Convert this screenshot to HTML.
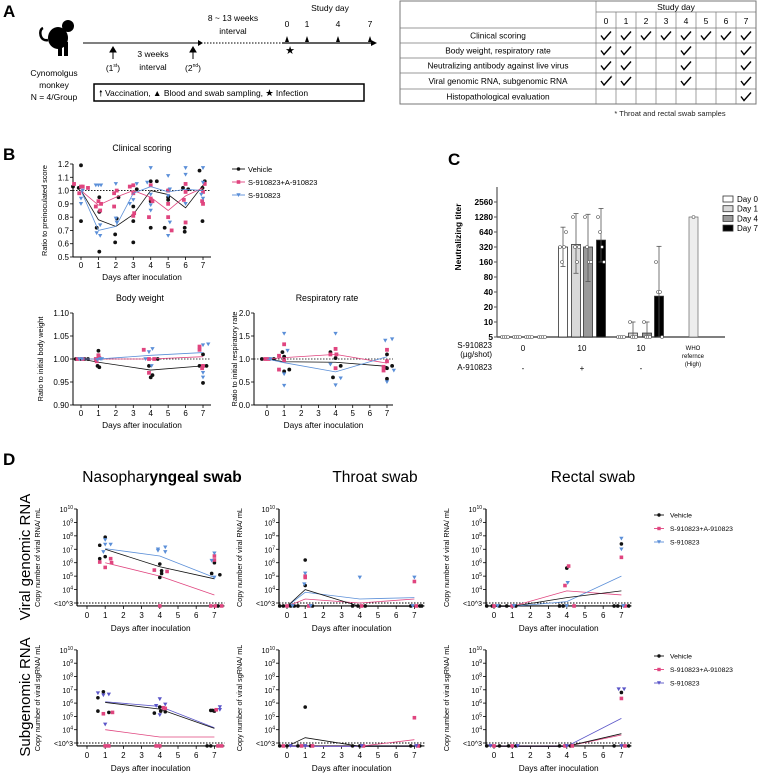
<!DOCTYPE html>
<html><head><meta charset="utf-8">
<style>
html,body{margin:0;padding:0;background:#fff;}
svg{display:block;font-family:"Liberation Sans",Arial,sans-serif;}
</style></head>
<body>
<svg id="fig" width="758" height="776" viewBox="0 0 758 776" xmlns="http://www.w3.org/2000/svg">
<g id="panelA">
<text x="3" y="17" font-size="17" font-weight="bold">A</text>
<g fill="#000">
<ellipse cx="58" cy="38" rx="10" ry="11"/>
<circle cx="68" cy="26" r="6"/>
<rect x="58" y="44" width="4" height="12"/><rect x="64" y="42" width="4" height="14"/>
<path d="M48,40 C40,42 38,30 43,28" stroke="#000" stroke-width="2.5" fill="none"/>
</g>
<text x="54" y="76" font-size="8.5" text-anchor="middle">Cynomolgus</text>
<text x="54" y="88" font-size="8.5" text-anchor="middle">monkey</text>
<text x="54" y="100" font-size="8.5" text-anchor="middle">N = 4/Group</text>
<line x1="83" y1="43" x2="198" y2="43" stroke="#000" stroke-width="1"/>
<path d="M198,40 L203,43 L198,46 Z"/>
<line x1="204" y1="43" x2="282" y2="43" stroke="#000" stroke-width="1" stroke-dasharray="1.5,1.5"/>
<line x1="282" y1="43" x2="372" y2="43" stroke="#000" stroke-width="1.2"/>
<path d="M371,40 L377,43 L371,46 Z"/>
<g stroke="#000" fill="#000">
<line x1="113" y1="51" x2="113" y2="59"/><path d="M110,52 L113,47 L116,52 Z"/>
<line x1="193" y1="51" x2="193" y2="59"/><path d="M190,52 L193,47 L196,52 Z"/>
</g>
<text x="113" y="71" font-size="8.5" text-anchor="middle">(1<tspan font-size="5" dy="-4">st</tspan><tspan dy="4">)</tspan></text>
<text x="193" y="71" font-size="8.5" text-anchor="middle">(2<tspan font-size="5" dy="-4">nd</tspan><tspan dy="4">)</tspan></text>
<text x="153" y="57" font-size="8.5" text-anchor="middle">3 weeks</text>
<text x="153" y="70" font-size="8.5" text-anchor="middle">interval</text>
<text x="233" y="21" font-size="8.5" text-anchor="middle">8 ~ 13 weeks</text>
<text x="233" y="34" font-size="8.5" text-anchor="middle">interval</text>
<text x="330" y="11" font-size="8.5" text-anchor="middle">Study day</text>
<g font-size="8.5" text-anchor="middle">
<text x="287" y="27">0</text><text x="307" y="27">1</text><text x="338" y="27">4</text><text x="370" y="27">7</text>
</g>
<g fill="#000">
<path d="M285,42 L287,36 L289,42 Z"/><path d="M305,42 L307,36 L309,42 Z"/><path d="M336,42 L338,36 L340,42 Z"/><path d="M368,42 L370,36 L372,42 Z"/>
</g>
<text x="290" y="54" font-size="11" text-anchor="middle">★</text>
<rect x="94" y="84" width="270" height="17" fill="none" stroke="#000" stroke-width="1.5"/>
<text x="99" y="96" font-size="8.5">🠕 Vaccination, ▲ Blood and swab sampling, ★ Infection</text>
</g>
<g id="tableA"></g>
<text x="670" y="116" font-size="7.5" text-anchor="middle" fill="#222">* Throat and rectal swab samples</text>

<text x="3" y="160" font-size="17" font-weight="bold">B</text>
<text x="448" y="165" font-size="17" font-weight="bold">C</text>
<text x="3" y="465" font-size="17" font-weight="bold">D</text>
<g id="gB"></g>
<g id="gC"></g>
<g id="gD"></g>
</svg>
<script>
// ===== DATA =====
const tableRows = ["Clinical scoring","Body weight, respiratory rate","Neutralizing antibody against live virus","Viral genomic RNA, subgenomic RNA","Histopathological evaluation"];
const tableDays = [0,1,2,3,4,5,6,7];
const tableChecks = [[0,1,2,3,4,5,6,7],[0,1,4,7],[0,1,4,7],[0,1,4,7],[7]];

const clinDays = [0,1,2,3,4,5,6,7];
const clinVehMean = [1.0,0.78,0.73,0.82,1.0,0.97,0.87,1.04];
const clinPinkMean = [1.0,0.89,0.95,1.0,0.95,0.85,0.96,1.02];
const clinBlueMean = [1.0,0.70,0.73,0.98,1.03,0.99,1.01,1.0];
const clinVehPts = [[-0.46,1.03],[0,1.19],[-0.13,1.02],[0,0.77],[1.05,0.84],[0.9,0.72],[1.05,0.95],[1.05,0.54],[1.96,0.61],[1.96,0.67],[2.05,0.79],[2.15,0.95],[3,0.88],[3,0.77],[3,0.61],[3.2,1.01],[4,0.92],[4,0.72],[4,1.07],[4.35,1.07],[5,1.0],[5,0.93],[5,0.95],[4.8,0.72],[5.95,0.69],[5.95,0.72],[5.85,1.02],[6.15,1.01],[6.8,1.15],[6.97,0.77],[6.97,1.02],[7.1,1.07]];
const clinPinkPts = [[-0.4,1.05],[-0.1,0.98],[0,1.03],[0.1,1.03],[0.4,1.02],[0.85,0.88],[1,0.92],[1.1,0.85],[1.15,0.9],[1.9,0.98],[1.9,0.88],[2.05,1.0],[2.8,1.03],[3,1.04],[3,0.98],[3,0.81],[3.05,0.83],[3.9,0.8],[4,0.94],[4,1.04],[4.1,0.92],[5,0.8],[5,0.9],[5,1.0],[5.2,0.7],[5.9,0.93],[6,1.05],[6,0.99],[6,0.76],[7,0.99],[7,0.9],[7.1,1.05],[6.95,0.92]];
const clinBluePts = [[0,0.94],[0,0.9],[0.1,1.0],[0.85,1.04],[1,1.04],[1.15,1.04],[0.9,0.68],[1.1,0.66],[1.1,0.74],[2,1.05],[2,0.79],[2.05,0.76],[2.8,0.9],[3,0.93],[3.2,1.05],[3.8,1.06],[4,1.17],[4,0.97],[4,0.89],[4,0.85],[5,1.11],[5,0.96],[5.1,1.01],[5,0.66],[5.1,0.76],[6,1.17],[6,1.12],[6,0.9],[7,1.17],[7,1.06],[7,0.94],[6.9,0.97]];
const clinTicks = [0.5,0.6,0.7,0.8,0.9,1.0,1.1,1.2];

const bwDays = [0,1,4,7];
const bwVehMean = [1.0,0.993,0.976,0.985];
const bwPinkMean = [1.0,1.0,1.0,1.005];
const bwBlueMean = [1.0,1.0,1.008,1.014];
const bwVehPts = [[-0.3,1.0],[0,1.0],[0.2,1.0],[0.4,1.0],[1,1.018],[1,1.008],[0.95,0.985],[1.05,0.982],[3.9,0.985],[4,0.96],[4.1,0.965],[4.4,1.0],[7,1.01],[7.2,0.985],[7,0.948],[6.8,0.985]];
const bwPinkPts = [[-0.2,1.0],[0.1,1.0],[0.85,1.0],[1,1.008],[1.05,1.002],[0.9,0.995],[3.6,1.02],[3.9,1.0],[3.9,0.97],[4.2,1.0],[6.8,1.027],[6.8,1.02],[7,0.985],[6.95,0.98]];
const bwBluePts = [[-0.1,1.0],[0.05,1.0],[1.1,1.0],[1.2,1.0],[0.95,0.998],[3.9,1.015],[4.1,1.022],[4.05,0.985],[3.7,1.0],[7,1.03],[7.3,1.032],[7,0.97],[7,0.96]];
const bwTicks = [0.90,0.95,1.00,1.05,1.10];

const rrDays = [0,1,4,7];
const rrVehMean = [1.0,0.94,0.93,0.84];
const rrPinkMean = [1.0,1.03,1.1,0.91];
const rrBlueMean = [1.0,0.92,0.72,1.05];
const rrVehPts = [[-0.3,1.0],[0.4,1.0],[0.9,1.15],[1,1.05],[1,0.73],[1.3,0.77],[3.7,1.15],[3.85,0.6],[4,1.02],[4.3,0.85],[7,1.1],[7,0.8],[7,0.57],[7.3,0.85]];
const rrPinkPts = [[-0.1,1.0],[0.1,1.0],[1,1.32],[0.7,1.07],[1,0.97],[0.7,0.77],[3.7,1.1],[4,1.22],[4.05,1.1],[4,0.8],[7,1.2],[7,0.95],[6.8,0.83],[6.8,0.75]];
const rrBluePts = [[0.2,1.0],[1,1.55],[1.2,1.18],[1,0.67],[1,0.42],[4,1.55],[3.7,0.88],[4.3,0.58],[4,0.43],[6.9,1.4],[7.3,1.43],[7,0.5],[7.4,0.75]];
const rrTicks = [0.0,0.5,1.0,1.5,2.0];

const cGroups = ["0","10","10"];
const cGroupSign = ["-","+","-"];
const cDays = ["Day 0","Day 1","Day 4","Day 7"];
const cMeans = [[5,5,5,5],[320,360,320,440],[5,6,6,33]];
const cErrHi = [[5,5,5,5],[800,1500,1450,1900],[5,10,10,330]];
const cErrLo = [[5,5,5,5],[130,95,65,160],[5,5,5,5]];
const cWho = 1280;
const cTicks = [5,10,20,40,80,160,320,640,1280,2560];
const cPts = [[[5,5,5,5],[5,5,5,5],[5,5,5,5],[5,5,5,5]],[[320,160,320,640],[1280,320,160,320],[1280,320,160,160],[1280,640,320,160]],[[5,5,5,5],[10,5,5,5],[10,5,5,5],[160,40,40,5]]];

const dDays = [0,1,4,7];
const nasoGVeh = [[0.7,7.3],[0.7,6.3],[1,7.9],[1,6.45],[4,5.9],[4,4.9],[4.1,5.4],[4.1,5.2],[6.85,5.2],[7,6.0],[7.3,5.1],[7.2,2.75]];
const nasoGPink = [[0.7,6.05],[1,5.65],[1.3,6.3],[1.35,6.0],[3.7,5.45],[4.4,5.35],[4,2.75],[7,6.5],[7,6.2],[6.8,2.75],[7.05,2.75],[7.4,2.75]];
const nasoGBlue = [[1,7.7],[1,7.35],[1.3,7.35],[0.9,6.8],[3.9,6.9],[3.9,7.0],[4.3,7.15],[4.3,6.8],[7,6.7],[6.85,6.15],[7,4.9]];
const nasoGVehMean = [null,7.0,5.7,4.8];
const nasoGPinkMean = [null,6.0,5.0,3.6];
const nasoGBlueMean = [null,7.05,6.5,4.9];
const throatGVeh = [[-0.4,2.75],[-0.2,2.75],[0.2,2.75],[0.4,2.75],[1,6.2],[1,4.3],[0.6,2.75],[1.4,2.75],[3.6,2.75],[3.9,2.75],[4.3,2.75],[6.8,2.75],[7.3,2.75],[7.4,2.75]];
const throatGPink = [[0,2.75],[1,5.0],[1,4.9],[1.2,2.75],[4.1,2.75],[7,4.6],[7.1,2.75]];
const throatGBlue = [[0.3,2.75],[1,5.2],[0.95,4.4],[1.3,2.75],[4,4.9],[7,4.9],[6.9,2.75]];
const throatGVehMean = [2.75,4.0,2.75,2.75];
const throatGPinkMean = [2.75,3.3,3.0,3.3];
const throatGBlueMean = [2.75,3.8,3.3,3.4];
const rectGVeh = [[-0.4,2.75],[-0.1,2.75],[0.3,2.75],[0.7,2.75],[1.2,2.75],[4,5.6],[3.6,2.75],[3.8,2.75],[7,7.4],[6.6,2.75],[6.8,2.75],[7.4,2.75]];
const rectGPink = [[0,2.75],[1,2.75],[3.9,4.3],[4.1,5.75],[4.4,2.75],[7,6.4],[7.2,2.75]];
const rectGBlue = [[0.2,2.75],[1.1,2.75],[4.05,4.5],[4,2.75],[7,7.8],[7,7.0],[7.1,2.75]];
const rectGVehMean = [2.75,2.75,3.4,3.9];
const rectGPinkMean = [2.75,2.75,3.9,3.6];
const rectGBlueMean = [2.75,2.75,3.1,5.0];
const nasoSVeh = [[0.6,6.4],[0.6,5.4],[0.9,6.85],[1.2,5.3],[3.7,5.25],[4,5.7],[4.05,5.4],[4.3,5.35],[6.8,5.45],[7,5.4],[6.9,5.45],[6.6,2.75],[6.8,2.75]];
const nasoSPink = [[0.9,5.2],[1.4,5.3],[1,2.75],[1.2,2.75],[4.3,5.6],[4.2,5.65],[3.8,2.75],[4,2.75],[7.1,5.5],[7.2,2.75],[7.4,2.75]];
const nasoSBlue = [[0.6,6.75],[0.9,6.6],[1.2,6.65],[1,4.4],[4,6.3],[3.8,5.8],[4.3,5.9],[4,5.1],[7.3,5.7],[7.3,5.5]];
const nasoSVehMean = [null,6.05,5.55,4.1];
const nasoSPinkMean = [null,4.0,3.45,3.45];
const nasoSBlueMean = [null,6.1,5.75,4.15];
const throatSVeh = [[-0.4,2.75],[0,2.75],[0.6,2.75],[1,5.7],[1.3,2.75],[3.6,2.75],[4,2.75],[6.8,2.75],[7.3,2.75]];
const throatSPink = [[-0.2,2.75],[0.8,2.75],[1.4,2.75],[4.2,2.75],[7,4.9],[7.2,2.75]];
const throatSBlue = [[0.2,2.75],[1,2.75],[4.1,2.75],[7.1,2.75]];
const throatSVehMean = [2.75,3.4,2.75,2.75];
const throatSPinkMean = [2.75,2.75,2.75,3.25];
const throatSBlueMean = [2.75,2.75,2.75,2.75];
const rectSVeh = [[-0.4,2.75],[0.3,2.75],[0.8,2.75],[1.2,2.75],[3.6,2.75],[4.2,2.75],[7,6.8],[6.6,2.75],[7.4,2.75]];
const rectSPink = [[0,2.75],[1,2.75],[3.9,2.75],[4.3,2.75],[7,6.35],[7.2,2.75]];
const rectSBlue = [[-0.2,2.75],[1.3,2.75],[4,2.75],[6.85,7.05],[7.15,7.05],[7,2.75]];
const rectSVehMean = [2.75,2.75,2.75,3.7];
const rectSPinkMean = [2.75,2.75,2.75,3.6];
const rectSBlueMean = [2.75,2.75,2.75,4.85];

// ===== DRAWING =====
const NS = "http://www.w3.org/2000/svg";
function E(tag, attrs, parent){const e=document.createElementNS(NS,tag);for(const k in attrs)e.setAttribute(k,attrs[k]);parent.appendChild(e);return e;}
const BLACK="#111", PINK="#e0457f", BLUE="#5b8fd8", PURPLE="#5a55c8";

(function(){
  const g=document.getElementById('tableA');
  const L=400,R=756,C=596,cw=(R-C)/8;
  const rowY=[28,43,58,73,89,104];
  const b=E('rect',{x:L,y:1,width:R-L,height:103,fill:'none',stroke:'#777','stroke-width':1},g);
  
  
  E('line',{x1:C,y1:1,x2:C,y2:104,stroke:'#777','stroke-width':0.7},g);
  E('line',{x1:C,y1:12,x2:R,y2:12,stroke:'#777','stroke-width':0.7},g);
  rowY.slice(0,5).forEach(y=>E('line',{x1:L,y1:y,x2:R,y2:y,stroke:'#777','stroke-width':0.7},g));
  for(let i=1;i<8;i++)E('line',{x1:C+i*cw,y1:12,x2:C+i*cw,y2:104,stroke:'#777','stroke-width':0.7},g);
  const h=E('text',{x:(C+R)/2,y:10,'font-size':8.5,'text-anchor':'middle'},g);h.textContent='Study day';
  
  
  tableDays.forEach((d,i)=>{const t=E('text',{x:C+cw*(i+0.5),y:24,'font-size':8.5,'text-anchor':'middle'},g);t.textContent=d;
    
    });
  tableRows.forEach((r,j)=>{
    const yc=(rowY[j]+rowY[j+1])/2;
    const t=E('text',{x:(L+C)/2,y:yc+3,'font-size':8.3,'text-anchor':'middle'},g);t.textContent=r;
    
    
    tableChecks[j].forEach(d=>{const i=tableDays.indexOf(d);const cx=C+cw*(i+0.5);
      const p=E('path',{d:`M${cx-5},${yc} L${cx-2},${yc+4} L${cx+5},${yc-4}`,stroke:'#000','stroke-width':1.4,fill:'none'},g);
      
      
      if(j===3&&d===0){const s=E('text',{x:cx+4,y:yc-1,'font-size':6},g);s.textContent='*';}
    });
  });
})();

function marker(g,type,x,y,color,s){
  let el;
  s=s||2.2;
  if(type==='c') el=E('circle',{cx:x,cy:y,r:s,fill:color},g);
  else if(type==='s') el=E('rect',{x:x-s,y:y-s,width:2*s,height:2*s,fill:color},g);
  else el=E('path',{d:`M${x-s*1.2},${y-s} L${x+s*1.2},${y-s} L${x},${y+s*1.1} Z`,fill:color},g);
  
  
  return el;
}
function meanLine(g,days,vals,xs,ys,color,w){
  let d='';days.forEach((dd,i)=>{if(vals[i]==null)return;d+=(d?'L':'M')+xs(dd)+','+ys(vals[i]);});
  const p=E('path',{d:d,fill:'none',stroke:color,'stroke-width':w||0.9},g);
  
  
}
function txt(g,x,y,s,size,anchor,extra){const t=E('text',Object.assign({x:x,y:y,'font-size':size,'text-anchor':anchor||'middle'},extra||{}),g);t.textContent=s;return t;}

function axesB(g,o){
  const {xs,ys,yAxisX,yTop,yBot,xEnd,ticks,fmt,title,titleX,titleY,ylab,ylabX}=o;
  const a=E('line',{x1:yAxisX,y1:yTop,x2:yAxisX,y2:yBot,stroke:'#000','stroke-width':1},g);
  
  
  const xa=E('line',{x1:yAxisX,y1:yBot,x2:xEnd,y2:yBot,stroke:'#000','stroke-width':1},g);
  
  
  ticks.forEach(t=>{const y=ys(t);E('line',{x1:yAxisX-3,y1:y,x2:yAxisX,y2:y,stroke:'#000','stroke-width':0.8},g);
    const l=txt(g,yAxisX-4,y+3,fmt(t),8,'end');
    
    });
  for(let d=0;d<=7;d++){const x=xs(d);E('line',{x1:x,y1:yBot,x2:x,y2:yBot+3,stroke:'#000','stroke-width':0.8},g);
    const l=txt(g,x,yBot+11,String(d),8);
    
    }
  const xl=txt(g,(yAxisX+xEnd)/2,yBot+23,'Days after inoculation',8.3);
  
  
  const tt=txt(g,titleX,titleY,title,8.8);
  
  
  const yl=txt(g,ylabX,(yTop+yBot)/2,ylab,7.3,'middle',{transform:`rotate(-90 ${ylabX} ${(yTop+yBot)/2})`});
  
  
  const ref=E('line',{x1:yAxisX,y1:ys(1),x2:xEnd,y2:ys(1),stroke:'#000','stroke-width':0.8,'stroke-dasharray':'1.5,1.5'},g);
  
  
}
function seriesB(g,days,means,pts,type,color,xs,ys){
  meanLine(g,days,means,xs,ys,color,0.8);
  pts.forEach(p=>marker(g,type,xs(p[0]),ys(p[1]),color,type==='t'?1.8:1.9));
}
(function(){
  const g=document.getElementById('gB');
  let xs=d=>81+d*17.43, ys=v=>257-(v-0.5)/0.7*93;
  axesB(g,{xs,ys,yAxisX:73,yTop:164,yBot:257,xEnd:211,ticks:clinTicks,fmt:v=>v.toFixed(1),title:'Clinical scoring',titleX:142,titleY:151,ylab:'Ratio to preinoculated score',ylabX:47});
  seriesB(g,clinDays,clinVehMean,clinVehPts,'c',BLACK,xs,ys);
  seriesB(g,clinDays,clinPinkMean,clinPinkPts,'s',PINK,xs,ys);
  seriesB(g,clinDays,clinBlueMean,clinBluePts,'t',BLUE,xs,ys);
  [['Vehicle',BLACK,'c'],['S-910823+A-910823',PINK,'s'],['S-910823',BLUE,'t']].forEach((l,i)=>{
    const y=169+i*13;
    const ln=E('line',{x1:232,y1:y,x2:245,y2:y,stroke:l[1],'stroke-width':0.9},g);
    
    
    marker(g,l[2],238.5,y,l[1],1.8);
    const t=txt(g,248,y+3,l[0],7.5,'start');
    
    
  });
  ys=v=>405-(v-0.9)/0.2*92;
  axesB(g,{xs,ys,yAxisX:73,yTop:313,yBot:405,xEnd:211,ticks:bwTicks,fmt:v=>v.toFixed(2),title:'Body weight',titleX:140,titleY:301,ylab:'Ratio to initial body weight',ylabX:43});
  seriesB(g,bwDays,bwVehMean,bwVehPts,'c',BLACK,xs,ys);
  seriesB(g,bwDays,bwPinkMean,bwPinkPts,'s',PINK,xs,ys);
  seriesB(g,bwDays,bwBlueMean,bwBluePts,'t',BLUE,xs,ys);
  const xs2=d=>267+d*17.14, ys2=v=>405-v/2*92;
  axesB(g,{xs:xs2,ys:ys2,yAxisX:254,yTop:313,yBot:405,xEnd:393,ticks:rrTicks,fmt:v=>v.toFixed(1),title:'Respiratory rate',titleX:327,titleY:301,ylab:'Ratio to initial respiratory rate',ylabX:237});
  seriesB(g,rrDays,rrVehMean,rrVehPts,'c',BLACK,xs2,ys2);
  seriesB(g,rrDays,rrPinkMean,rrPinkPts,'s',PINK,xs2,ys2);
  seriesB(g,rrDays,rrBlueMean,rrBluePts,'t',BLUE,xs2,ys2);
})();

(function(){
  const g=document.getElementById('gC');
  const ys=v=>337-Math.log2(v/5)*15;
  const ax=E('line',{x1:497,y1:187,x2:497,y2:337,stroke:'#555','stroke-width':1.2},g);
  
  
  const xa=E('line',{x1:497,y1:337,x2:725,y2:337,stroke:'#555','stroke-width':1.5},g);
  
  
  cTicks.forEach(t=>{E('line',{x1:494,y1:ys(t),x2:497,y2:ys(t),stroke:'#555'},g);
    const l=txt(g,493,ys(t)+3,String(t),8.3,'end',{'font-weight':'bold'});
    
    });
  const yl=txt(g,461,237,'Neutralizing titer',8.5,'middle',{'font-weight':'bold',transform:'rotate(-90 461 237)'});
  
  
  const fills=['#ffffff','#d9d9d9','#9a9a9a','#000000'];
  const centers=[[505,517,529,542],[563,576,588,601],[621,633,647,659]];
  cMeans.forEach((grp,gi)=>{
    grp.forEach((v,di)=>{
      const cx=centers[gi][di], bw=9;
      if(v>5){const r=E('rect',{x:cx-bw/2,y:ys(v),width:bw,height:337-ys(v),fill:fills[di],stroke:'#333','stroke-width':0.8},g);
        
        }
      if(cErrHi[gi][di]>v){E('line',{x1:cx,y1:ys(cErrHi[gi][di]),x2:cx,y2:ys(v),stroke:'#555','stroke-width':0.8},g);
        E('line',{x1:cx-2.5,y1:ys(cErrHi[gi][di]),x2:cx+2.5,y2:ys(cErrHi[gi][di]),stroke:'#555','stroke-width':0.8},g);}
      if(cErrLo[gi][di]<v){E('line',{x1:cx,y1:ys(v),x2:cx,y2:ys(cErrLo[gi][di]),stroke:'#555','stroke-width':0.8},g);
        E('line',{x1:cx-2.5,y1:ys(cErrLo[gi][di]),x2:cx+2.5,y2:ys(cErrLo[gi][di]),stroke:'#555','stroke-width':0.8},g);}
      cPts[gi][di].forEach((p,pi)=>{const c=E('circle',{cx:cx-3+pi*2,cy:ys(p),r:1.5,fill:'#fff',stroke:'#555','stroke-width':0.6},g);
        
        });
    });
  });
  const w=E('rect',{x:689,y:ys(cWho),width:9,height:337-ys(cWho),fill:'#ededed',stroke:'#666','stroke-width':0.7},g);
  
  
  E('circle',{cx:693.5,cy:ys(cWho),r:1.5,fill:'#fff',stroke:'#555','stroke-width':0.6},g);
  txt(g,492,348,'S-910823',8,'end');txt(g,492,357,'(µg/shot)',8,'end');txt(g,492,370,'A-910823',8,'end');
  const gx=[523,582,641];
  cGroups.forEach((s,i)=>{const t=txt(g,gx[i],351,s,8);
    const u=txt(g,gx[i],371,cGroupSign[i],8);});
  txt(g,693,350,'WHO',6);txt(g,693,358,'refernce',6);txt(g,693,366,'(High)',6);
  cDays.forEach((d,i)=>{const y=202+i*9.7;
    const r=E('rect',{x:723,y:y-6,width:10,height:6,fill:fills[i],stroke:'#333','stroke-width':0.8},g);
    
    
    const t=txt(g,737,y,d,8,'start');
    
    });
})();

(function(){
  const g=document.getElementById('gD');
  const t0=E('text',{x:162,y:482,'font-size':15.5,'text-anchor':'middle'},g);t0.innerHTML='Nasophar<tspan font-weight="bold">yngeal swab</tspan>';
  
  
  const t1=txt(g,375,482,'Throat swab',15.5);
  const t2=txt(g,593,482,'Rectal swab',15.5);
  const r1=txt(g,30,557,'Viral genomic RNA',15,'middle',{transform:'rotate(-90 30 557)'});
  const r2=txt(g,30,697,'Subgenomic RNA',15,'middle',{transform:'rotate(-90 30 697)'});

  const cols=[{ax:77,x0:87},{ax:279,x0:287},{ax:486,x0:494}];
  const rows=[{top:509,l3:603,dec:13.43,lab:'Copy number of viral RNA/ mL'},{top:650,l3:743,dec:13.3,lab:'Copy number of viral sgRNA/ mL'}];
  const datasets=[
    [[nasoGVeh,nasoGPink,nasoGBlue],[nasoGVehMean,nasoGPinkMean,nasoGBlueMean]],
    [[throatGVeh,throatGPink,throatGBlue],[throatGVehMean,throatGPinkMean,throatGBlueMean]],
    [[rectGVeh,rectGPink,rectGBlue],[rectGVehMean,rectGPinkMean,rectGBlueMean]],
    [[nasoSVeh,nasoSPink,nasoSBlue],[nasoSVehMean,nasoSPinkMean,nasoSBlueMean]],
    [[throatSVeh,throatSPink,throatSBlue],[throatSVehMean,throatSPinkMean,throatSBlueMean]],
    [[rectSVeh,rectSPink,rectSBlue],[rectSVehMean,rectSPinkMean,rectSBlueMean]]];
  rows.forEach((R,ri)=>{
    cols.forEach((C,ci)=>{
      const xs=d=>C.x0+d*18.2, ys=l=>R.l3-(l-3)*R.dec;
      const bot=ys(2.78);
      const xEnd=xs(7.55);
      const ya=E('line',{x1:C.ax,y1:R.top,x2:C.ax,y2:bot,stroke:'#000','stroke-width':1.2},g);
      
      
      const xa=E('line',{x1:C.ax,y1:bot,x2:xEnd,y2:bot,stroke:'#000','stroke-width':1.2},g);
      
      
      for(let e=4;e<=10;e++){const y=ys(e);E('line',{x1:C.ax-3,y1:y,x2:C.ax,y2:y,stroke:'#000','stroke-width':0.8},g);
        const t=E('text',{x:C.ax-4,y:y+3,'font-size':7,'text-anchor':'end'},g);t.innerHTML='10<tspan font-size="5" dy="-3">'+e+'</tspan>';
        
        }
      E('line',{x1:C.ax-3,y1:ys(3),x2:C.ax,y2:ys(3),stroke:'#000','stroke-width':0.8},g);
      const lt=txt(g,C.ax-4,ys(3)+3,'<10^3',7,'end');
      const dl=E('line',{x1:C.ax,y1:ys(3),x2:xEnd,y2:ys(3),stroke:'#000','stroke-width':0.9,'stroke-dasharray':'1.5,1.5'},g);
      
      
      for(let d=0;d<=7;d++){E('line',{x1:xs(d),y1:bot,x2:xs(d),y2:bot+3,stroke:'#000','stroke-width':0.8},g);
        const t=txt(g,xs(d),bot+12,String(d),8);}
      const xl=txt(g,(C.ax+xEnd)/2,bot+25,'Days after inoculation',8.3);
      const ylx=C.ax-37;
      const yl=txt(g,ylx,(R.top+bot)/2,R.lab,7.3,'middle',{transform:`rotate(-90 ${ylx} ${(R.top+bot)/2})`});
      
      
      const ds=datasets[ri*3+ci];
      const cols3=[BLACK,PINK,ri===0?BLUE:PURPLE];
      const types=['c','s','t'];
      [1,2,0].forEach(k=>{
        meanLine(g,dDays,ds[1][k],xs,ys,cols3[k],0.8);
      });
      [0,1,2].forEach(k=>{
        ds[0][k].forEach(p=>marker(g,types[k],xs(p[0]),p[1]<=2.78?bot:ys(p[1]),cols3[k],1.8));
      });
    });
    const ly=ri===0?515:656;
    [['Vehicle',BLACK,'c'],['S-910823+A-910823',PINK,'s'],['S-910823',ri===0?BLUE:PURPLE,'t']].forEach((l,i)=>{
      const y=ly+i*13.5;
      const ln=E('line',{x1:654,y1:y,x2:664,y2:y,stroke:l[1],'stroke-width':0.9},g);
      
      
      marker(g,l[2],659,y,l[1],1.7);
      const t=txt(g,670,y+2.5,l[0],6.8,'start');
      
      
    });
  });
})();
</script>
</body></html>
